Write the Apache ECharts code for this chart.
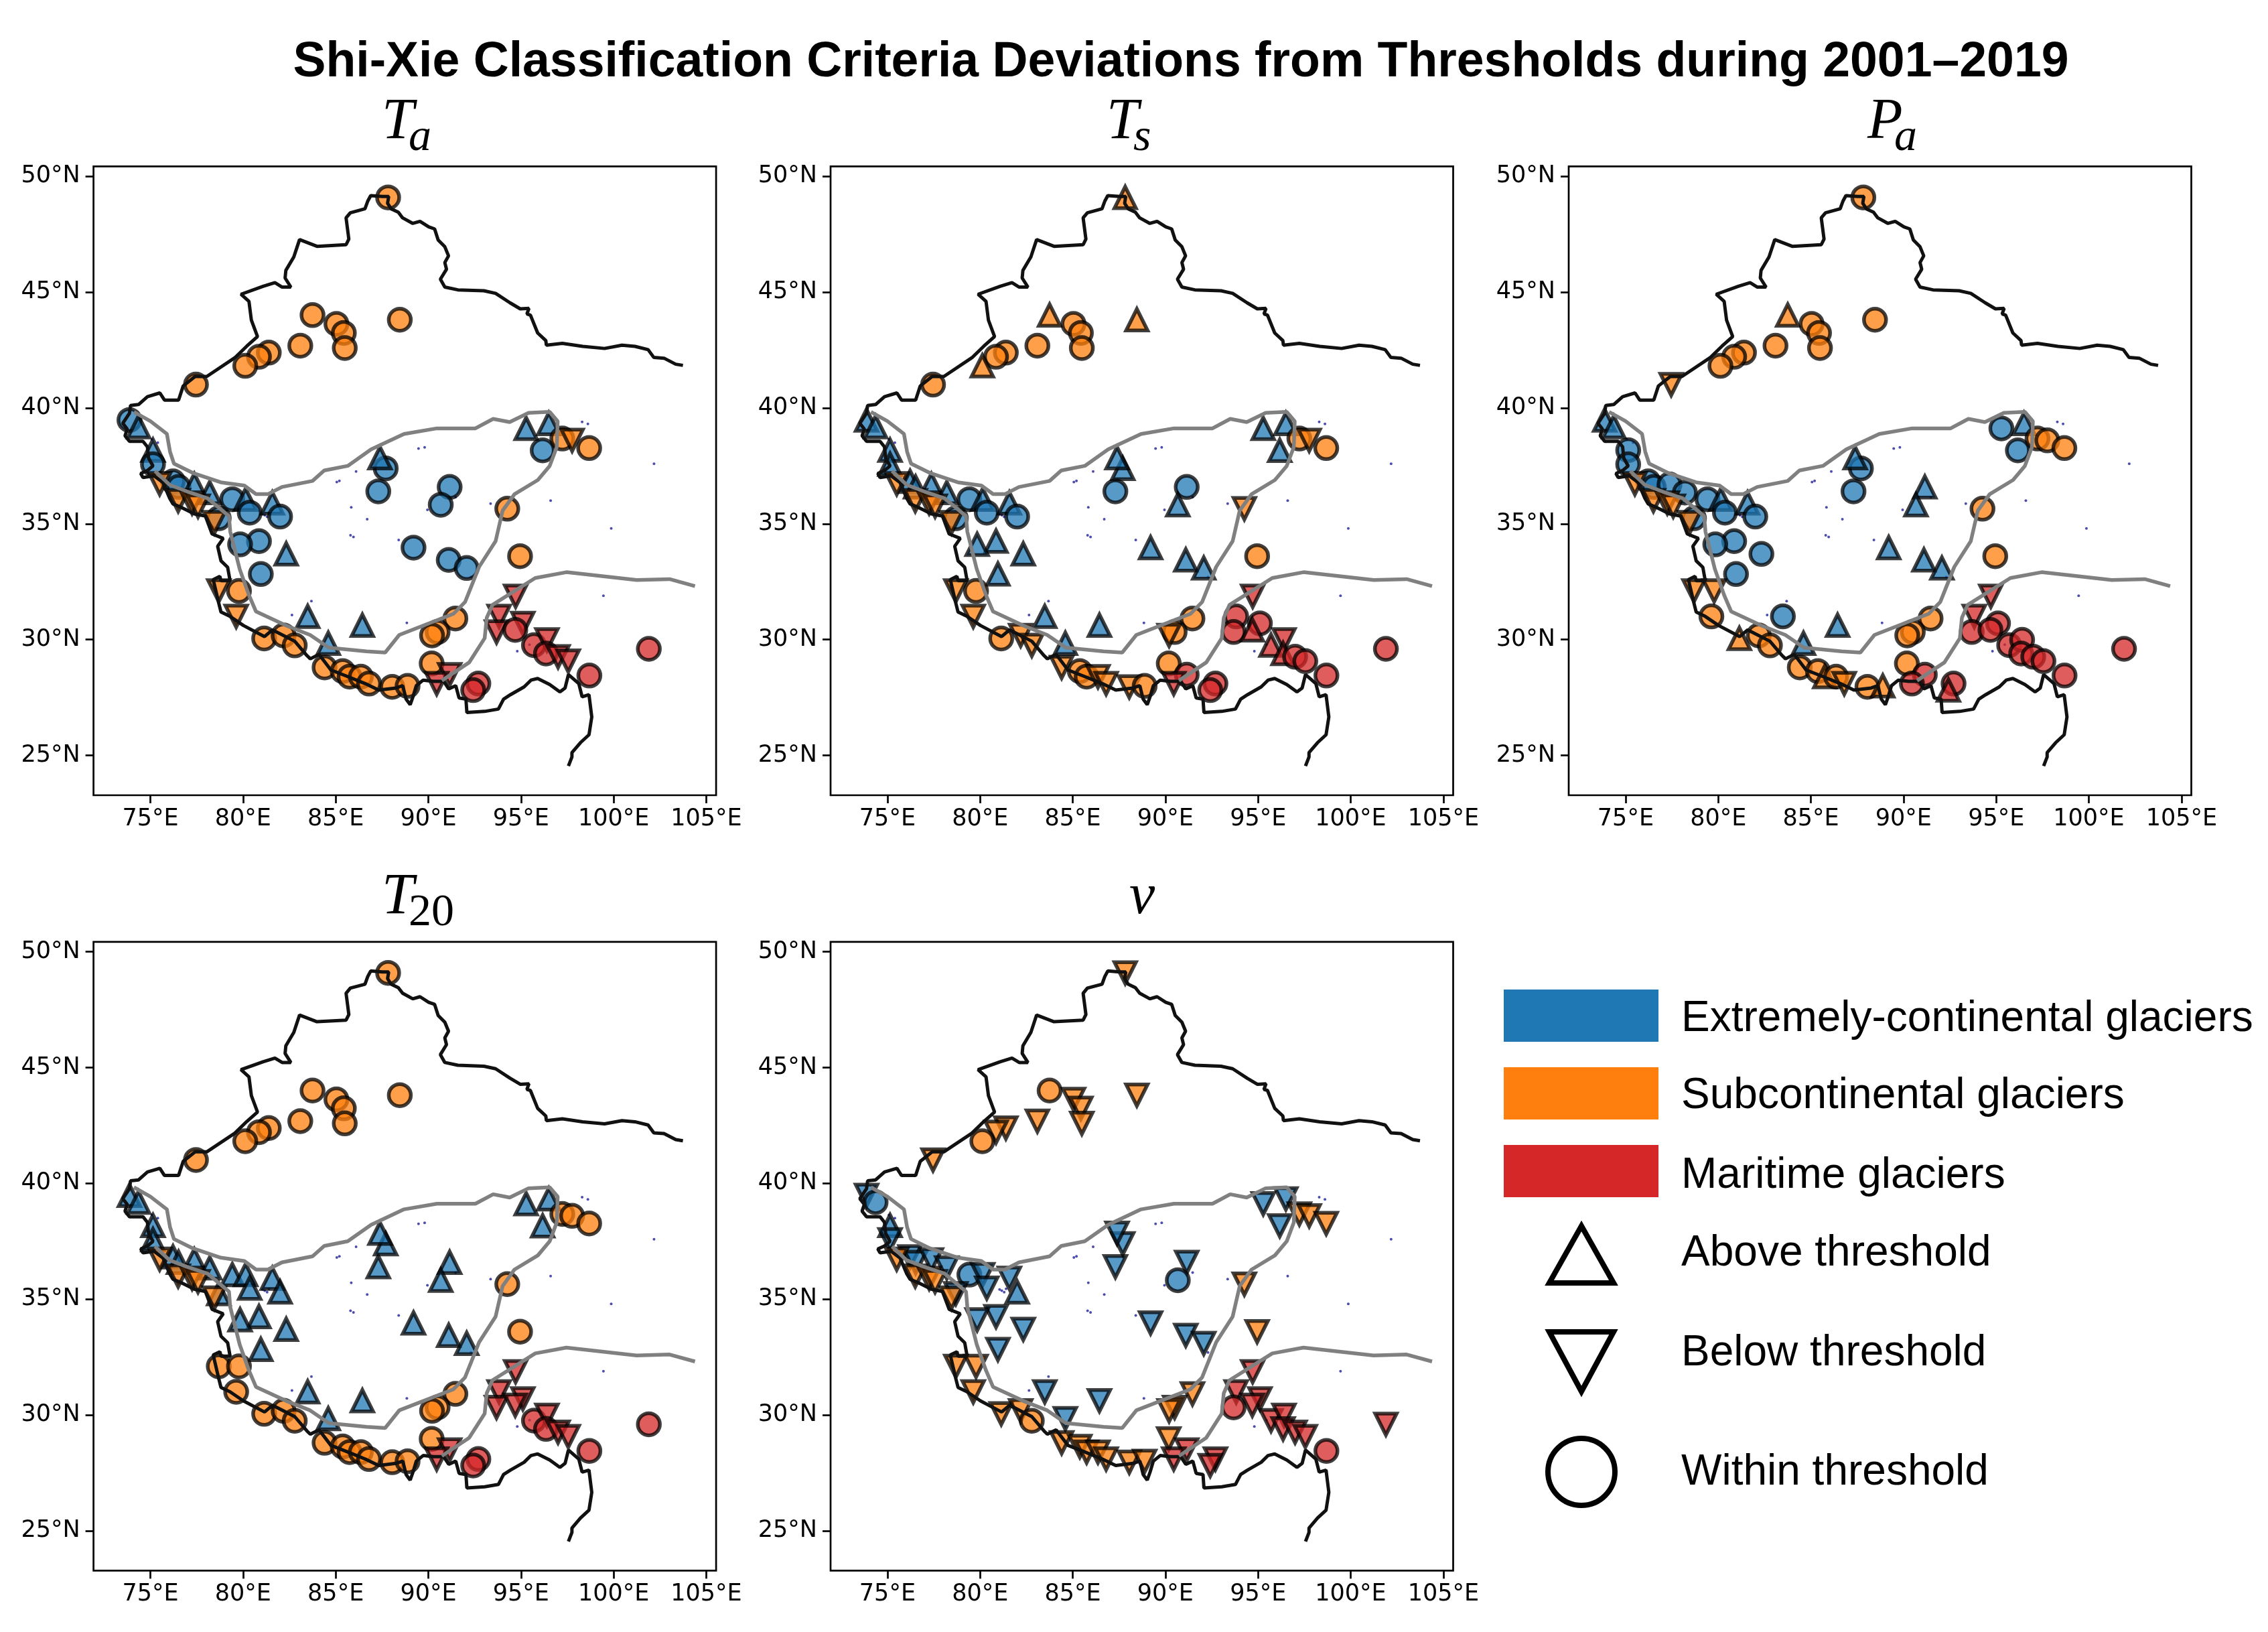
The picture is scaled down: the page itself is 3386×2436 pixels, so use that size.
<!DOCTYPE html>
<html><head><meta charset="utf-8">
<style>html,body{margin:0;padding:0;background:#fff}#c{width:3386px;height:2436px}</style>
<script src="https://cdn.jsdelivr.net/npm/echarts@6/dist/echarts.min.js"></script>
</head><body><div id="c"></div>
<script>
const chartTitle = 'Shi-Xie Classification Criteria Deviations from Thresholds during 2001–2019';
const xTicks = [75,80,85,90,95,100,105];
const yTicks = [25,30,35,40,45,50];
const stationLon = [87.83,83.75,85.04,85.44,85.49,88.46,83.09,81.39,80.86,80.12,77.46,
  73.87,74.36,75.14,75.14,76.22,76.52,77.37,78.20,79.42,80.14,80.36,81.58,82.00,78.69,
  75.50,76.50,77.25,77.57,78.45,
  80.86,79.84,82.33,80.96,
  78.69,79.78,79.63,81.14,82.19,82.79,
  83.49,86.44,84.60,
  84.40,85.38,85.75,86.36,86.80,88.05,88.88,
  87.30,87.70,87.39,91.15,90.67,89.20,91.10,92.07,
  95.28,96.50,96.17,
  97.23,97.76,98.68,94.26,94.95,91.46,90.50,90.20,90.18,
  91.15,90.45,92.70,92.42,94.71,93.82,95.10,93.68,94.69,95.70,96.40,96.35,97.00,97.55,98.69,101.90];
const stationLat = [49.09,44.01,43.63,43.24,42.59,43.81,42.69,42.39,42.21,41.82,41.01,
  39.48,39.19,38.18,37.57,36.83,36.59,36.70,36.35,36.06,36.06,35.48,35.90,35.31,35.24,
  36.73,36.00,35.90,35.76,35.05,
  34.25,34.11,33.70,32.83,
  32.10,32.10,31.00,30.05,30.18,29.75,
  31.00,30.62,29.84,
  28.80,28.64,28.40,28.40,28.10,27.96,28.00,
  36.40,37.39,37.85,36.59,35.82,33.97,33.44,33.09,
  39.12,39.33,38.17,
  38.68,38.60,38.27,35.65,33.60,30.91,30.33,30.18,28.97,
  28.49,28.10,28.10,27.82,31.87,31.00,30.70,30.33,30.42,29.76,29.99,29.40,29.26,29.07,28.45,29.60];
const stationClass = ('OOOOOOOOOOO BBBBBBBBBBBBBB OOOOO BBBB OOOOOO BBB OOOOOOO BBBBBBBB BBB OOOOOOOOO RRRRRRRRRRRRRRRR').replace(/ /g,'');
const shapesTa  = ('ooooooooooo ouuooouuououoo ddddd oouo dodooo uuu ooooooo oouooooo uuo odooooooo ddooddddoododdoo').replace(/ /g,'');
const shapesTs  = ('uuooouooouo uuuuuuuuououoo ddddd uuuu dododd uuu doodddo ouuouuuu uuu ododooodo odoodooouuduoooo').replace(/ /g,'');
const shapesPa  = ('ouooooooood uuooooooououoo ddddd oooo ddouoo ouu oouodou oouuuuuu ouo ooooooooo ooouddoooooooooo').replace(/ /g,'');
const shapesT20 = ('ooooooooooo uuuuuuuuuuuuuu ddddd uuuu oooooo uuu ooooooo uuuuuuuu uuu ooooooooo ddoodddddododdoo').replace(/ /g,'');
const shapesV   = ('dodddddddod doudddddodddud ddddd dddd dddddo ddd ddddddd ddddoddd ddd ddddddddd dddddddoddddddod').replace(/ /g,'');
const borderLine = [[103.74,41.84],[103.35,41.89],[102.72,42.15],[102.17,42.18],[101.86,42.52],[101.15,42.66],[100.45,42.71],[99.51,42.57],[98.33,42.66],[97.23,42.79],[96.37,42.71],[96.34,42.91],[95.9,43.24],[95.51,44.01],[95.32,44.06],[95.43,44.3],[94.96,44.28],[94.41,44.54],[93.63,44.95],[93.0,45.06],[91.59,45.1],[90.89,45.22],[90.65,45.56],[90.98,45.99],[90.89,46.28],[91.09,46.57],[90.89,46.96],[90.53,47.25],[90.34,47.73],[90.02,47.82],[89.55,48.06],[89.16,47.97],[88.61,48.21],[88.38,48.45],[87.99,48.6],[87.8,48.84],[87.86,49.13],[87.52,49.13],[86.89,49.17],[86.73,48.93],[86.58,48.6],[85.79,48.43],[85.56,48.21],[85.71,47.29],[85.56,47.05],[83.99,46.98],[83.05,47.27],[82.74,46.52],[82.31,45.94],[82.27,45.61],[82.58,45.22],[82.11,45.22],[81.72,45.41],[81.08,45.25],[79.89,44.91],[80.32,44.6],[80.45,43.79],[80.78,43.08],[80.2,42.67],[79.56,42.17],[78.04,41.36],[77.41,41.36],[76.77,40.95],[76.52,40.34],[75.76,40.34],[75.51,40.65],[74.84,40.49],[74.36,40.15],[73.93,40.11],[73.87,39.77],[73.51,39.34],[73.75,39.09],[73.63,38.8],[73.87,38.56],[74.6,38.56],[74.84,38.32],[74.9,37.84],[75.14,37.5],[74.84,37.3],[74.48,37.17],[74.6,37.0],[75.2,37.07],[75.68,36.78],[76.04,36.1],[76.22,35.86],[76.64,35.72],[77.37,35.43],[77.97,35.33],[78.33,34.56],[78.93,34.37],[78.63,34.03],[78.81,33.4],[79.17,33.12],[79.3,32.54],[78.81,32.54],[78.75,32.73],[78.39,32.59],[78.69,31.57],[78.81,31.19],[79.3,31.0],[80.02,30.61],[81.16,30.13],[81.59,30.42],[82.79,29.93],[83.45,29.31],[83.63,29.17],[84.1,29.36],[84.74,28.69],[85.66,28.4],[86.59,28.1],[87.32,27.82],[88.25,27.91],[88.62,28.01],[88.8,27.43],[89.02,27.19],[89.17,27.53],[89.35,28.01],[89.72,28.25],[90.28,28.2],[90.83,28.2],[91.1,27.87],[91.48,28.01],[91.66,27.48],[92.03,27.43],[92.08,26.85],[93.04,26.9],[93.78,27.0],[94.06,27.43],[94.43,27.62],[95.17,27.96],[95.54,28.25],[95.9,28.32],[96.55,28.06],[97.1,27.74],[97.38,27.91],[97.56,28.49],[98.12,28.1],[98.3,27.53],[98.67,27.62],[98.82,26.66],[98.67,25.89],[98.21,25.55],[97.75,25.12],[97.75,24.93],[97.56,24.54]];
const zoneLineNorth = [[74.11,39.83],[75.0,39.43],[75.89,38.88],[76.06,38.11],[76.27,37.6],[77.28,37.2],[78.8,36.79],[80.07,36.65],[80.7,36.28],[81.34,36.28],[82.1,36.59],[83.75,36.85],[84.38,37.3],[85.65,37.5],[86.91,38.21],[88.69,38.88],[90.46,39.12],[92.54,39.12],[93.5,39.53],[94.39,39.39],[95.41,39.79],[96.55,39.83],[96.98,39.43],[96.93,38.31],[96.55,37.5],[95.91,36.89],[94.65,36.28],[94.01,35.57],[93.63,34.25],[92.74,33.14],[91.98,31.62],[91.35,31.11],[88.43,30.2],[87.67,29.44],[86.66,29.49],[84.63,29.65],[83.62,30.2],[82.35,30.6],[80.7,31.21],[80.32,31.92],[79.82,33.04],[79.31,34.66],[79.24,35.33],[78.09,36.1],[77.0,36.39],[76.04,36.68],[75.25,37.28]];
const zoneLineEast = [[104.39,32.31],[103.02,32.61],[101.24,32.57],[97.45,32.91],[95.77,32.66],[93.46,31.5],[93.15,30.94],[93.04,30.06],[92.2,29.01],[90.73,28.23]];
const glacierSpecks = [[85.06,36.8],[85.2,36.85],[86.1,37.26],[89.47,38.25],[89.8,38.3],[85.84,35.71],[85.96,34.43],[85.8,34.5],[89.95,35.6],[91.47,36.15],[99.87,34.8],[81.17,35.37],[81.3,35.3],[81.05,35.42],[81.4,35.45],[93.36,35.87],[83.69,31.66],[82.64,31.06],[99.45,31.89],[98.61,39.31],[98.3,39.4],[75.08,38.64],[75.4,38.5],[102.18,37.59],[88.84,30.72],[95.46,29.78],[94.8,29.5],[88.4,34.3],[86.7,35.2],[92.3,32.7],[96.6,36.0]];
const classColors = {B:'#1f77b4',O:'#ff7f0e',R:'#d62728'};
const panels = [
 {shapes:shapesTa, left:139.6, top:248.4, main:'T', sub:'a',  tx:570, ty:208},
 {shapes:shapesTs, left:1240,  top:248.4, main:'T', sub:'s',  tx:1652,ty:208},
 {shapes:shapesPa, left:2342,  top:248.4, main:'P', sub:'a',  tx:2788,ty:208},
 {shapes:shapesT20,left:139.6, top:1405.8,main:'T', sub:'20', tx:570, ty:1365},
 {shapes:shapesV,  left:1240,  top:1405.8,main:'v', sub:'',   tx:1686,ty:1365}
];
const GW=929.5, GH=938.6;
const tickFont={fontFamily:'DejaVu Sans',fontSize:35,color:'#000'};
const grids=[],xAxes=[],yAxes=[],series=[],graphics=[];
panels.forEach((p,i)=>{
  grids.push({left:p.left,top:p.top,width:GW,height:GH,show:true,borderColor:'#000',borderWidth:2.7,backgroundColor:'#fff'});
  xAxes.push({type:'value',gridIndex:i,min:71.93,max:105.53,splitLine:{show:false},axisLine:{show:false},
    axisTick:{show:true,length:12,lineStyle:{width:2.7,color:'#000'},customValues:xTicks},
    axisLabel:Object.assign({show:true,margin:18,customValues:xTicks,formatter:v=>v+'°E'},tickFont)});
  yAxes.push({type:'value',gridIndex:i,min:23.28,max:50.43,splitLine:{show:false},axisLine:{show:false},
    axisTick:{show:true,length:12,lineStyle:{width:2.7,color:'#000'},customValues:yTicks},
    axisLabel:Object.assign({show:true,margin:20,padding:[8,0,0,0],customValues:yTicks,formatter:v=>v+'°N'},tickFont)});
  series.push({type:'scatter',xAxisIndex:i,yAxisIndex:i,z:1,silent:true,symbol:'circle',symbolSize:4,
    itemStyle:{color:'#00008b',opacity:0.7},data:glacierSpecks});
  const items=stationLon.map((lon,k)=>{
    const s=p.shapes[k];
    return {value:[lon,stationLat[k]],
      symbol:s==='o'?'circle':'triangle',
      symbolRotate:s==='d'?180:0,
      symbolSize:s==='o'?33:32,
      itemStyle:{color:classColors[stationClass[k]],borderColor:'#000',borderWidth:5.5,opacity:0.75}};
  });
  series.push({type:'scatter',xAxisIndex:i,yAxisIndex:i,z:2,silent:true,data:items});
  series.push({type:'line',xAxisIndex:i,yAxisIndex:i,z:3,silent:true,showSymbol:false,symbol:'none',
    lineStyle:{color:'#111',width:5},data:borderLine});
  [zoneLineNorth,zoneLineEast].forEach(l=>series.push({type:'line',xAxisIndex:i,yAxisIndex:i,z:4,silent:true,showSymbol:false,symbol:'none',
    lineStyle:{color:'#808080',width:5.5},data:l}));
  graphics.push({type:'text',x:p.tx,y:p.ty+18,style:{text:p.main,fontFamily:'Liberation Serif',fontStyle:'italic',fontSize:86,fill:'#000',verticalAlign:'bottom'}});
  if(p.sub){graphics.push({type:'text',x:p.tx+40,y:p.ty+32,style:{text:p.sub,fontFamily:'Liberation Serif',fontStyle:p.sub==='20'?'normal':'italic',fontSize:68,fill:'#000',verticalAlign:'bottom'}});}
});
const legendRows=[['Extremely-continental glaciers',1521,'#1f77b4',1477],['Subcontinental glaciers',1636,'#ff7f0e',1593],['Maritime glaciers',1755,'#d62728',1709],['Above threshold',1871],['Below threshold',2020],['Within threshold',2198]];
legendRows.forEach(r=>{
  if(r[2]) graphics.push({type:'rect',shape:{x:2245,y:r[3],width:231,height:78},style:{fill:r[2]}});
  graphics.push({type:'text',x:2510,y:r[1],style:{text:r[0],fontFamily:'Liberation Sans',fontSize:64,fill:'#000',verticalAlign:'middle'}});
});
graphics.push({type:'polygon',shape:{points:[[2361,1830],[2313,1915],[2409,1915]]},style:{fill:'none',stroke:'#000',lineWidth:8}});
graphics.push({type:'polygon',shape:{points:[[2361,2077],[2313,1988],[2409,1988]]},style:{fill:'none',stroke:'#000',lineWidth:8}});
graphics.push({type:'circle',shape:{cx:2361,cy:2197,r:50},style:{fill:'none',stroke:'#000',lineWidth:8}});
const chart=echarts.init(document.getElementById('c'),null,{renderer:'canvas',devicePixelRatio:1});
chart.setOption({animation:false,backgroundColor:'#fff',
  title:{text:chartTitle,left:1758,top:52,textAlign:'center',textStyle:{fontFamily:'Liberation Sans',fontWeight:'bold',fontSize:73.4,color:'#000'}},
  grid:grids,xAxis:xAxes,yAxis:yAxes,series:series,graphic:{elements:graphics}});
</script></body></html>
